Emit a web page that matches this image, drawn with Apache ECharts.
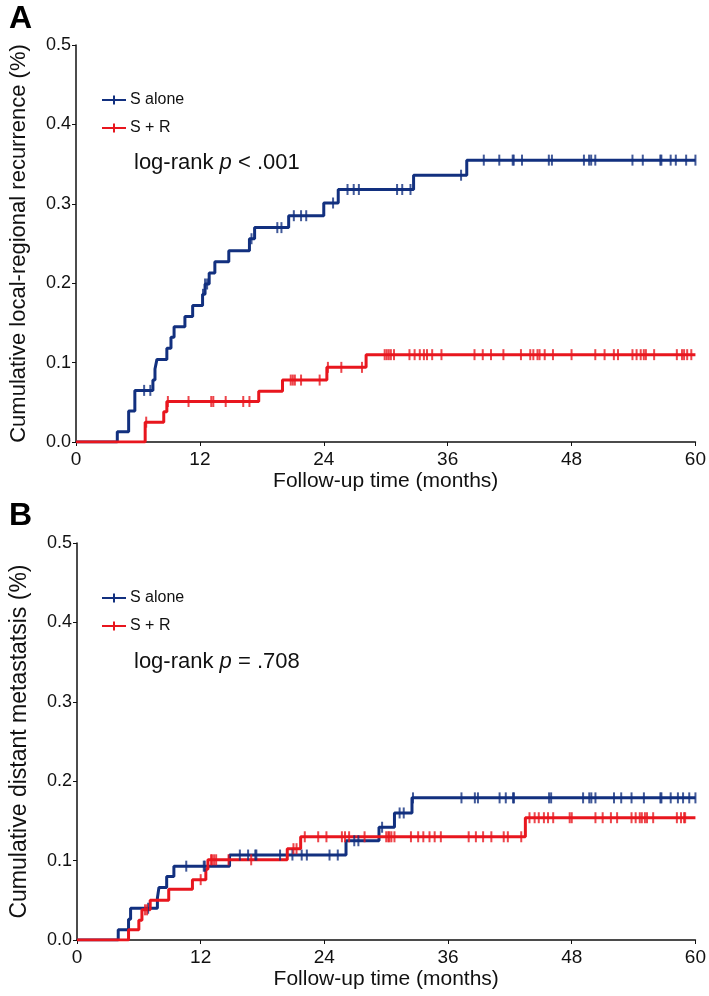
<!DOCTYPE html>
<html>
<head>
<meta charset="utf-8">
<script src="https://cdn.jsdelivr.net/npm/echarts@6/dist/echarts.min.js"></script>
<style>
  html, body { margin: 0; padding: 0; background: #fff; }
  #chart { width: 709px; height: 996px; }
</style>
</head>
<body>
<div id="chart"></div>
<script>
// x axis ticks (months)
var xTicks = [0, 12, 24, 36, 48, 60]

// panel A - local-regional recurrence, step times and cumulative values
var aAloneT = [0, 4.0, 5.1, 5.7, 7.45, 7.65, 7.84, 8.8, 9.2, 9.5, 10.55, 11.3, 12.26, 12.5, 12.9, 13.45, 14.8, 16.8, 17.3, 20.6, 24.0, 25.4, 32.7, 37.85, 60]
var aAloneV = [0, 0.013, 0.039, 0.065, 0.078, 0.092, 0.104, 0.118, 0.132, 0.145, 0.158, 0.172, 0.186, 0.199, 0.213, 0.227, 0.241, 0.256, 0.270, 0.285, 0.301, 0.318, 0.336, 0.355, 0.355]
var aAloneCens = [6.6, 7.2, 12.3, 12.5, 12.7, 17.0, 19.5, 19.9, 21.1, 21.8, 22.3, 24.9, 26.3, 26.9, 27.4, 31.1, 31.6, 32.4, 37.3, 39.5, 41.0, 42.3, 42.4, 43.2, 45.8, 46.1, 49.2, 49.7, 49.9, 50.3, 53.9, 54.9, 56.6, 56.7, 57.6, 58.1, 59.1, 60.0]

var aSrT = [0, 6.7, 8.5, 8.8, 17.7, 20.0, 24.3, 28.1, 60]
var aSrV = [0, 0.025, 0.038, 0.051, 0.064, 0.078, 0.094, 0.110, 0.110]
var aSrCens = [6.8, 8.9, 10.9, 13.1, 13.3, 14.5, 16.2, 16.8, 20.8, 21.0, 21.2, 21.8, 23.6, 24.4, 25.7, 27.7, 29.9, 30.1, 30.3, 30.5, 30.8, 32.3, 32.8, 33.3, 33.7, 34.0, 34.5, 35.4, 38.6, 39.4, 40.2, 41.4, 43.1, 44.0, 44.3, 44.7, 44.9, 45.4, 46.2, 48.0, 50.3, 51.2, 52.1, 52.5, 53.9, 54.3, 54.7, 55.0, 55.2, 56.0, 58.2, 58.7, 58.9, 59.2, 59.6]

// panel B - distant metastasis
var bAloneT = [0, 4.0, 5.0, 5.2, 7.8, 7.95, 8.7, 9.4, 14.8, 26.1, 29.3, 30.8, 32.5, 60]
var bAloneV = [0, 0.013, 0.026, 0.040, 0.053, 0.066, 0.080, 0.093, 0.107, 0.125, 0.142, 0.160, 0.179, 0.179]
var bAloneCens = [6.9, 10.6, 12.3, 12.4, 15.8, 16.6, 17.3, 17.4, 19.7, 20.9, 21.8, 22.3, 24.5, 25.3, 26.9, 27.3, 29.6, 31.3, 31.7, 32.6, 37.3, 38.6, 38.9, 41.0, 41.6, 42.3, 42.4, 45.8, 46.0, 49.1, 49.7, 49.9, 50.3, 52.1, 52.8, 53.8, 55.0, 56.6, 56.7, 57.6, 58.3, 58.8, 59.4, 60.0]

var bSrT = [0, 5.0, 6.0, 6.3, 7.1, 8.9, 11.2, 12.5, 12.7, 20.4, 21.7, 43.5, 60]
var bSrV = [0, 0.013, 0.025, 0.038, 0.050, 0.064, 0.076, 0.089, 0.101, 0.115, 0.130, 0.154, 0.154]
var bSrCens = [6.6, 6.8, 12.0, 13.0, 13.1, 13.3, 13.5, 14.7, 16.9, 21.0, 21.3, 22.1, 23.4, 24.2, 25.7, 26.0, 26.4, 27.9, 30.0, 30.2, 30.3, 30.5, 30.8, 32.4, 33.1, 33.6, 34.2, 34.7, 35.3, 38.0, 38.7, 39.4, 40.2, 41.4, 41.8, 43.1, 43.9, 44.4, 44.8, 45.3, 45.7, 46.2, 47.8, 48.0, 50.3, 51.0, 51.8, 52.4, 53.8, 54.2, 54.6, 54.8, 55.1, 55.3, 55.9, 58.2, 58.6, 58.9, 59.0]

var BLUE = '#12307f'
var RED = '#e8161e'
var FONT = 'Liberation Sans, Arial, sans-serif'

function levelAt (ts, vs, t) {
  var v = vs[0]
  for (var i = 0; i < ts.length; i++) {
    if (ts[i] <= t) v = vs[i]
  }
  return v
}

function stepSeries (name, ts, vs, color, idx) {
  return {
    name: name,
    type: 'line',
    step: 'end',
    xAxisIndex: idx,
    yAxisIndex: idx,
    symbol: 'none',
    color: color,
    lineStyle: { color: color, width: 3 },
    data: ts.map(function (t, i) { return [t, vs[i]] }),
    z: 3
  }
}

function censorSeries (name, ts, vs, cens, color, idx) {
  return {
    name: name + ' censored',
    type: 'scatter',
    xAxisIndex: idx,
    yAxisIndex: idx,
    symbol: 'rect',
    symbolSize: [2, 11],
    itemStyle: { color: color },
    data: cens.map(function (t) { return [t, levelAt(ts, vs, t)] }),
    z: 4
  }
}

function xAxisOf (idx) {
  return {
    type: 'value',
    gridIndex: idx,
    min: 0,
    max: 60,
    interval: 12,
    name: 'Follow-up time (months)',
    nameLocation: 'middle',
    nameGap: 29,
    nameTextStyle: { fontSize: 21, color: '#111', fontFamily: FONT },
    axisLine: { lineStyle: { color: '#111', width: 1.5 } },
    axisTick: { lineStyle: { color: '#111' }, length: 4 },
    axisLabel: {
      fontSize: 19, color: '#111', fontFamily: FONT, margin: 8,
      formatter: function (v) { return xTicks.indexOf(v) >= 0 ? String(v) : '' }
    },
    splitLine: { show: false }
  }
}

function yAxisOf (idx, title, titleSize) {
  return {
    type: 'value',
    gridIndex: idx,
    min: 0,
    max: 0.5,
    interval: 0.1,
    name: title,
    nameLocation: 'middle',
    nameGap: 46,
    nameTextStyle: { fontSize: titleSize, color: '#111', fontFamily: FONT },
    axisLine: { show: true, lineStyle: { color: '#111', width: 1.5 } },
    axisTick: { show: true, lineStyle: { color: '#111' }, length: 4 },
    axisLabel: {
      fontSize: 18, color: '#111', fontFamily: FONT, margin: 5,
      formatter: function (v) { return v.toFixed(1) }
    },
    splitLine: { show: false }
  }
}

var legendIcon = 'path://M0,3.5h24v2h-24z M11,0h2v9h-2z'

function legendOf (top) {
  return {
    data: ['S alone', 'S + R'],
    orient: 'vertical',
    left: 97,
    top: top,
    itemWidth: 24,
    itemHeight: 9,
    itemGap: 12,
    icon: legendIcon,
    selectedMode: false,
    textStyle: { fontSize: 16, color: '#111', fontFamily: FONT, padding: [0, 0, 0, -1] }
  }
}

function logRank (top, txt) {
  return {
    type: 'text',
    left: 134,
    top: top,
    style: {
      text: 'log-rank {it|p} ' + txt,
      fontSize: 22,
      fontFamily: FONT,
      fill: '#111',
      rich: { it: { fontStyle: 'italic', fontSize: 22, fontFamily: FONT } }
    }
  }
}

var myChart = echarts.init(document.getElementById('chart'), null, { renderer: 'canvas' })
var option = {
  backgroundColor: '#fff',
  animation: false,
  textStyle: { fontFamily: FONT },
  grid: [
    { left: 75, right: 13, top: 45, height: 397 },
    { left: 75, right: 13, top: 543, height: 397 }
  ],
  xAxis: [xAxisOf(0), xAxisOf(1)],
  yAxis: [
    yAxisOf(0, 'Cumulative local-regional recurrence (%)', 22),
    yAxisOf(1, 'Cumulative distant metastatsis (%)', 23)
  ],
  legend: [legendOf(87), legendOf(585)],
  graphic: [
    { type: 'text', left: 9, top: 3, style: { text: 'A', fontSize: 32, fontWeight: 'bold', fontFamily: FONT, fill: '#000' } },
    { type: 'text', left: 9, top: 500, style: { text: 'B', fontSize: 32, fontWeight: 'bold', fontFamily: FONT, fill: '#000' } },
    logRank(152, '< .001'),
    logRank(651, '= .708')
  ],
  series: [
    stepSeries('S alone', aAloneT, aAloneV, BLUE, 0),
    stepSeries('S + R', aSrT, aSrV, RED, 0),
    censorSeries('S alone A', aAloneT, aAloneV, aAloneCens, BLUE, 0),
    censorSeries('S + R A', aSrT, aSrV, aSrCens, RED, 0),
    stepSeries('S alone', bAloneT, bAloneV, BLUE, 1),
    stepSeries('S + R', bSrT, bSrV, RED, 1),
    censorSeries('S alone B', bAloneT, bAloneV, bAloneCens, BLUE, 1),
    censorSeries('S + R B', bSrT, bSrV, bSrCens, RED, 1)
  ]
}
myChart.setOption(option)
</script>
</body>
</html>
